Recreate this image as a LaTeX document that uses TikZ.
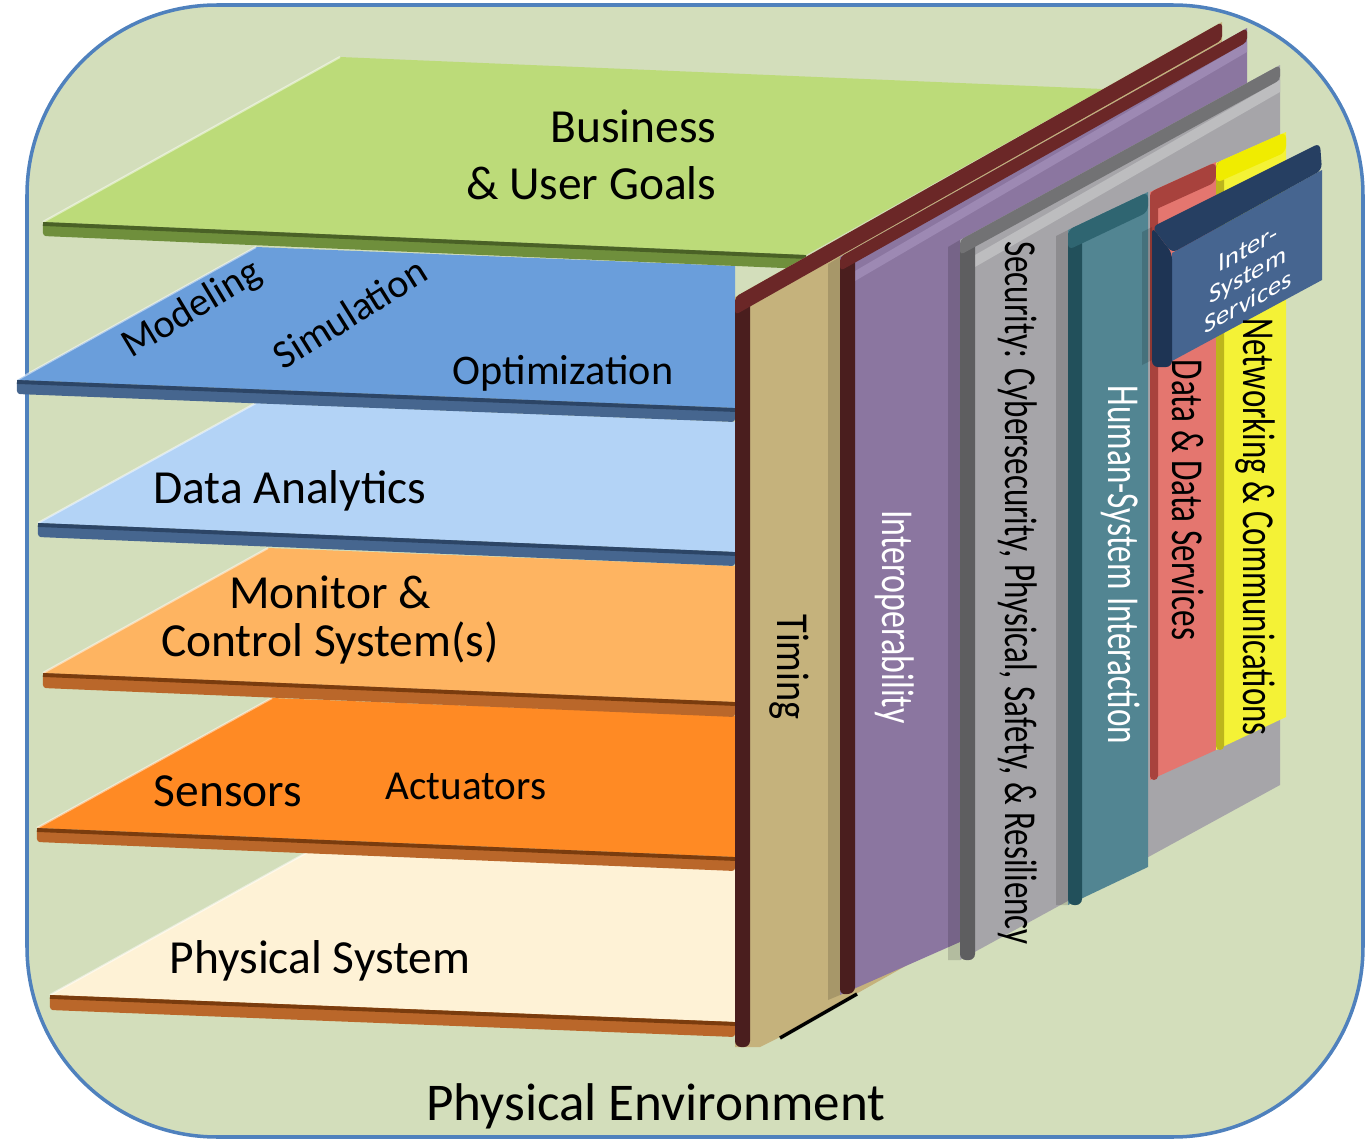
\documentclass[tikz,border=0pt]{standalone}
\usepackage{fontspec}
\setmainfont{Carlito}
\usepackage{graphicx}
\newcommand{\fitlen}[2]{\resizebox{#1}{\height}{#2}}

\definecolor{bggreen}{HTML}{D3DEBB}
\definecolor{frameblue}{HTML}{4F81BD}
\definecolor{greentop}{HTML}{BCDB79}
\definecolor{greenedge}{HTML}{6F8F3C}
\definecolor{greenline}{HTML}{4A6126}
\definecolor{bluetop}{HTML}{6A9EDB}
\definecolor{lbluetop}{HTML}{B3D3F6}
\definecolor{blueedge}{HTML}{46668F}
\definecolor{blueline}{HTML}{2C4566}
\definecolor{lorangetop}{HTML}{FEB461}
\definecolor{orangetop}{HTML}{FF8A24}
\definecolor{creamtop}{HTML}{FEF2D6}
\definecolor{brownedge}{HTML}{BA672A}
\definecolor{brownline}{HTML}{7A3C0E}
\definecolor{timingtan}{HTML}{C5B27C}
\definecolor{darkred}{HTML}{4A1E1E}
\definecolor{redband}{HTML}{6B2727}
\definecolor{interpurple}{HTML}{8B76A0}
\definecolor{interlight}{HTML}{9D89B3}
\definecolor{secgray}{HTML}{A6A5A9}
\definecolor{seclight}{HTML}{BDBDBF}
\definecolor{secdark}{HTML}{5E5E60}
\definecolor{secband}{HTML}{727274}
\definecolor{hsiteal}{HTML}{528592}
\definecolor{hsidark}{HTML}{22505B}
\definecolor{hsiband}{HTML}{2F6571}
\definecolor{datared}{HTML}{E4766F}
\definecolor{datadark}{HTML}{A8423D}
\definecolor{netyellow}{HTML}{F4F236}
\definecolor{netdark}{HTML}{BDB51C}
\definecolor{netband}{HTML}{F0EC00}
\definecolor{issblue}{HTML}{466590}
\definecolor{issdark}{HTML}{1E3454}
\definecolor{isstop}{HTML}{263F62}

\begin{document}
\begin{tikzpicture}[x=0.01cm, y=-0.01cm,
  frame/.style={fill=bggreen, draw=frameblue, line width=1pt, rounded corners=1.9cm},
  shade/.style={fill=black, opacity=0.15},
  lbl/.style={font=\fontsize{13.5}{16.2}\selectfont, inner sep=0pt},
  sidelbl/.style={rotate=-90, font=\fontsize{13}{15}\selectfont, inner sep=0pt},
  isslbl/.style={yslant=0.55, transform shape, align=center, text=white, inner sep=0pt,
    font=\fontsize{7.5}{7.6}\selectfont}]
  \useasboundingbox (0,0) rectangle (1365,1139);
  \draw[frame] (27,5) rectangle (1363,1137);

  % horizontal layers, bottom one first
  \foreach \ax/\ay/\bx/\by/\cx/\cy/\dx/\dy/\t/\ctop/\cedge/\cline in {
    306/853/735/870/735/1022/50/995/15/creamtop/brownedge/brownline,
    272/698/735/716/735/857/37/828/14/orangetop/brownedge/brownline,
    268/548/735/566/735/702/43/673/15/lorangetop/brownedge/brownline,
    256/403/735/422/735/552/38/523/14/lbluetop/blueedge/blueline,
    256/247/735/266/735/408/17/380/14/bluetop/blueedge/blueline,
    340/57/1103/89/806/255/43/222/14/greentop/greenedge/greenline}
  {
    \fill[\ctop] (\ax,\ay) -- (\bx,\by) -- (\cx,\cy) -- (\dx,\dy) -- cycle;
    \draw[white, opacity=0.5, line width=0.6pt] (\ax,\ay) -- (\dx,\dy);
    \fill[\cedge, rounded corners=0.03cm] (\dx,\dy) -- (\cx,\cy) -- (\cx,\cy+\t) -- (\dx,\dy+\t) -- cycle;
    \draw[\cline, line width=1.1pt] (\dx,\dy+2) -- (\cx,\cy+2);
  }

  \node[lbl, align=right, anchor=east] (goals) at (717,155) {Business\\\& User Goals};
  \node[lbl, font=\fontsize{11.4}{13}\selectfont, rotate=31] (modeling) at (192,310) {Modeling};
  \node[lbl, font=\fontsize{11.4}{13}\selectfont, rotate=32] (simulation) at (350,313) {Simulation};
  \node[lbl, font=\fontsize{12}{14}\selectfont, anchor=base] (optim) at (563,384) {Optimization};
  \node[lbl, anchor=base] (analytics) at (290,503) {Data Analytics};
  \node[lbl, align=center, font=\fontsize{13.5}{13.8}\selectfont] (monitor) at (330,620) {Monitor \&\\Control System(s)};
  \node[lbl, anchor=base] (sensors) at (228,806) {Sensors};
  \node[lbl, font=\fontsize{11.7}{14}\selectfont, anchor=base] (actuators) at (466,799) {Actuators};
  \node[lbl, anchor=base] (physys) at (320,973) {Physical System};
  \node[lbl, font=\fontsize{15.1}{18}\selectfont, anchor=base] (environment) at (656,1120) {Physical Environment};

  % Timing board
  \fill[timingtan] (735,297) -- (1222,22) -- (1222,787) -- (780,1037) -- (760,1047) -- (735,1047) -- cycle;
  \fill[darkred, rounded corners=0.06cm] (735,297) -- (750,290) -- (750,1047) -- (735,1047) -- cycle;
  \fill[redband, rounded corners=0.04cm] (735,297) -- (1222,22) -- (1222,40) -- (735,315) -- cycle;
  \draw[black, line width=1pt] (780,1038) -- (857,994);

  % Interoperability board
  \fill[shade] (828,264) -- (840,257) -- (840,995) -- (828,1000) -- cycle;
  \fill[interpurple] (840,257) -- (1247,28) -- (1247,700) -- (960,942) -- (840,995) -- cycle;
  \fill[interlight] (855,271) -- (1247,42) -- (1247,52) -- (855,281) -- cycle;
  \fill[darkred, rounded corners=0.06cm] (840,257) -- (855,250) -- (855,993) -- (840,995) -- cycle;
  \fill[redband, rounded corners=0.04cm] (840,257) -- (1247,28) -- (1247,42) -- (840,271) -- cycle;

  % Security board
  \fill[shade] (948,247) -- (960,240) -- (960,960) -- (948,960) -- cycle;
  \fill[secgray] (960,240) -- (1280,65) -- (1280,785) -- (960,960) -- cycle;
  \fill[seclight] (975,255) -- (1280,80) -- (1280,92) -- (975,267) -- cycle;
  \fill[secdark, rounded corners=0.06cm] (960,240) -- (975,233) -- (975,960) -- (960,960) -- cycle;
  \fill[secband, rounded corners=0.04cm] (960,240) -- (1280,65) -- (1280,80) -- (960,255) -- cycle;

  % Human-System Interaction board
  \fill[shade] (1056,236) -- (1068,230) -- (1068,905) -- (1056,905) -- cycle;
  \fill[hsiteal] (1068,230) -- (1148,192) -- (1148,867) -- (1068,905) -- cycle;
  \fill[hsidark, rounded corners=0.06cm] (1068,230) -- (1082,224) -- (1082,905) -- (1068,905) -- cycle;
  \fill[hsiband, rounded corners=0.06cm] (1068,230) -- (1148,192) -- (1148,212) -- (1068,250) -- cycle;

  % Data board
  \fill[datared] (1150,192) -- (1216,162) -- (1216,750) -- (1150,780) -- cycle;
  \fill[datadark, rounded corners=0.04cm] (1150,192) -- (1158,189) -- (1158,780) -- (1150,780) -- cycle;
  \fill[datadark, rounded corners=0.06cm] (1150,192) -- (1216,162) -- (1216,182) -- (1150,212) -- cycle;

  % Networking board
  \fill[netyellow] (1216,163) -- (1286,132) -- (1286,717) -- (1216,750) -- cycle;
  \fill[netdark, rounded corners=0.04cm] (1216,163) -- (1224,160) -- (1224,750) -- (1216,750) -- cycle;
  \fill[netband, rounded corners=0.06cm] (1216,163) -- (1286,132) -- (1286,152) -- (1216,183) -- cycle;

  % Inter-System Services box
  \fill[shade] (1142,232) -- (1152,227) -- (1152,360) -- (1142,365) -- cycle;
  \fill[issblue] (1172,253) -- (1322,170) -- (1322,280) -- (1172,361) -- cycle;
  \fill[issdark, rounded corners=0.06cm] (1152,227) -- (1172,253) -- (1172,367) -- (1152,367) -- cycle;
  \fill[isstop, rounded corners=0.06cm] (1152,227) -- (1320,143) -- (1322,170) -- (1172,253) -- cycle;

  \node[sidelbl] (timing) at (789,667) {\fitlen{1.05cm}{Timing}};
  \node[sidelbl, text=white] (interop) at (895,617) {\fitlen{2.13cm}{Interoperability}};
  \node[sidelbl] (security) at (1018,593) {\fitlen{7.03cm}{Security: Cybersecurity, Physical, Safety, \& Resiliency}};
  \node[sidelbl, text=white] (hsi) at (1121,565) {\fitlen{3.58cm}{Human-System Interaction}};
  \node[sidelbl] (datasvc) at (1188,500) {\fitlen{2.80cm}{Data \& Data Services}};
  \node[sidelbl] (network) at (1255,527) {\fitlen{4.17cm}{Networking \& Communications}};
  \node[isslbl] (iss) at (1248,275) {Inter-\\System\\Services};
\end{tikzpicture}
\end{document}
